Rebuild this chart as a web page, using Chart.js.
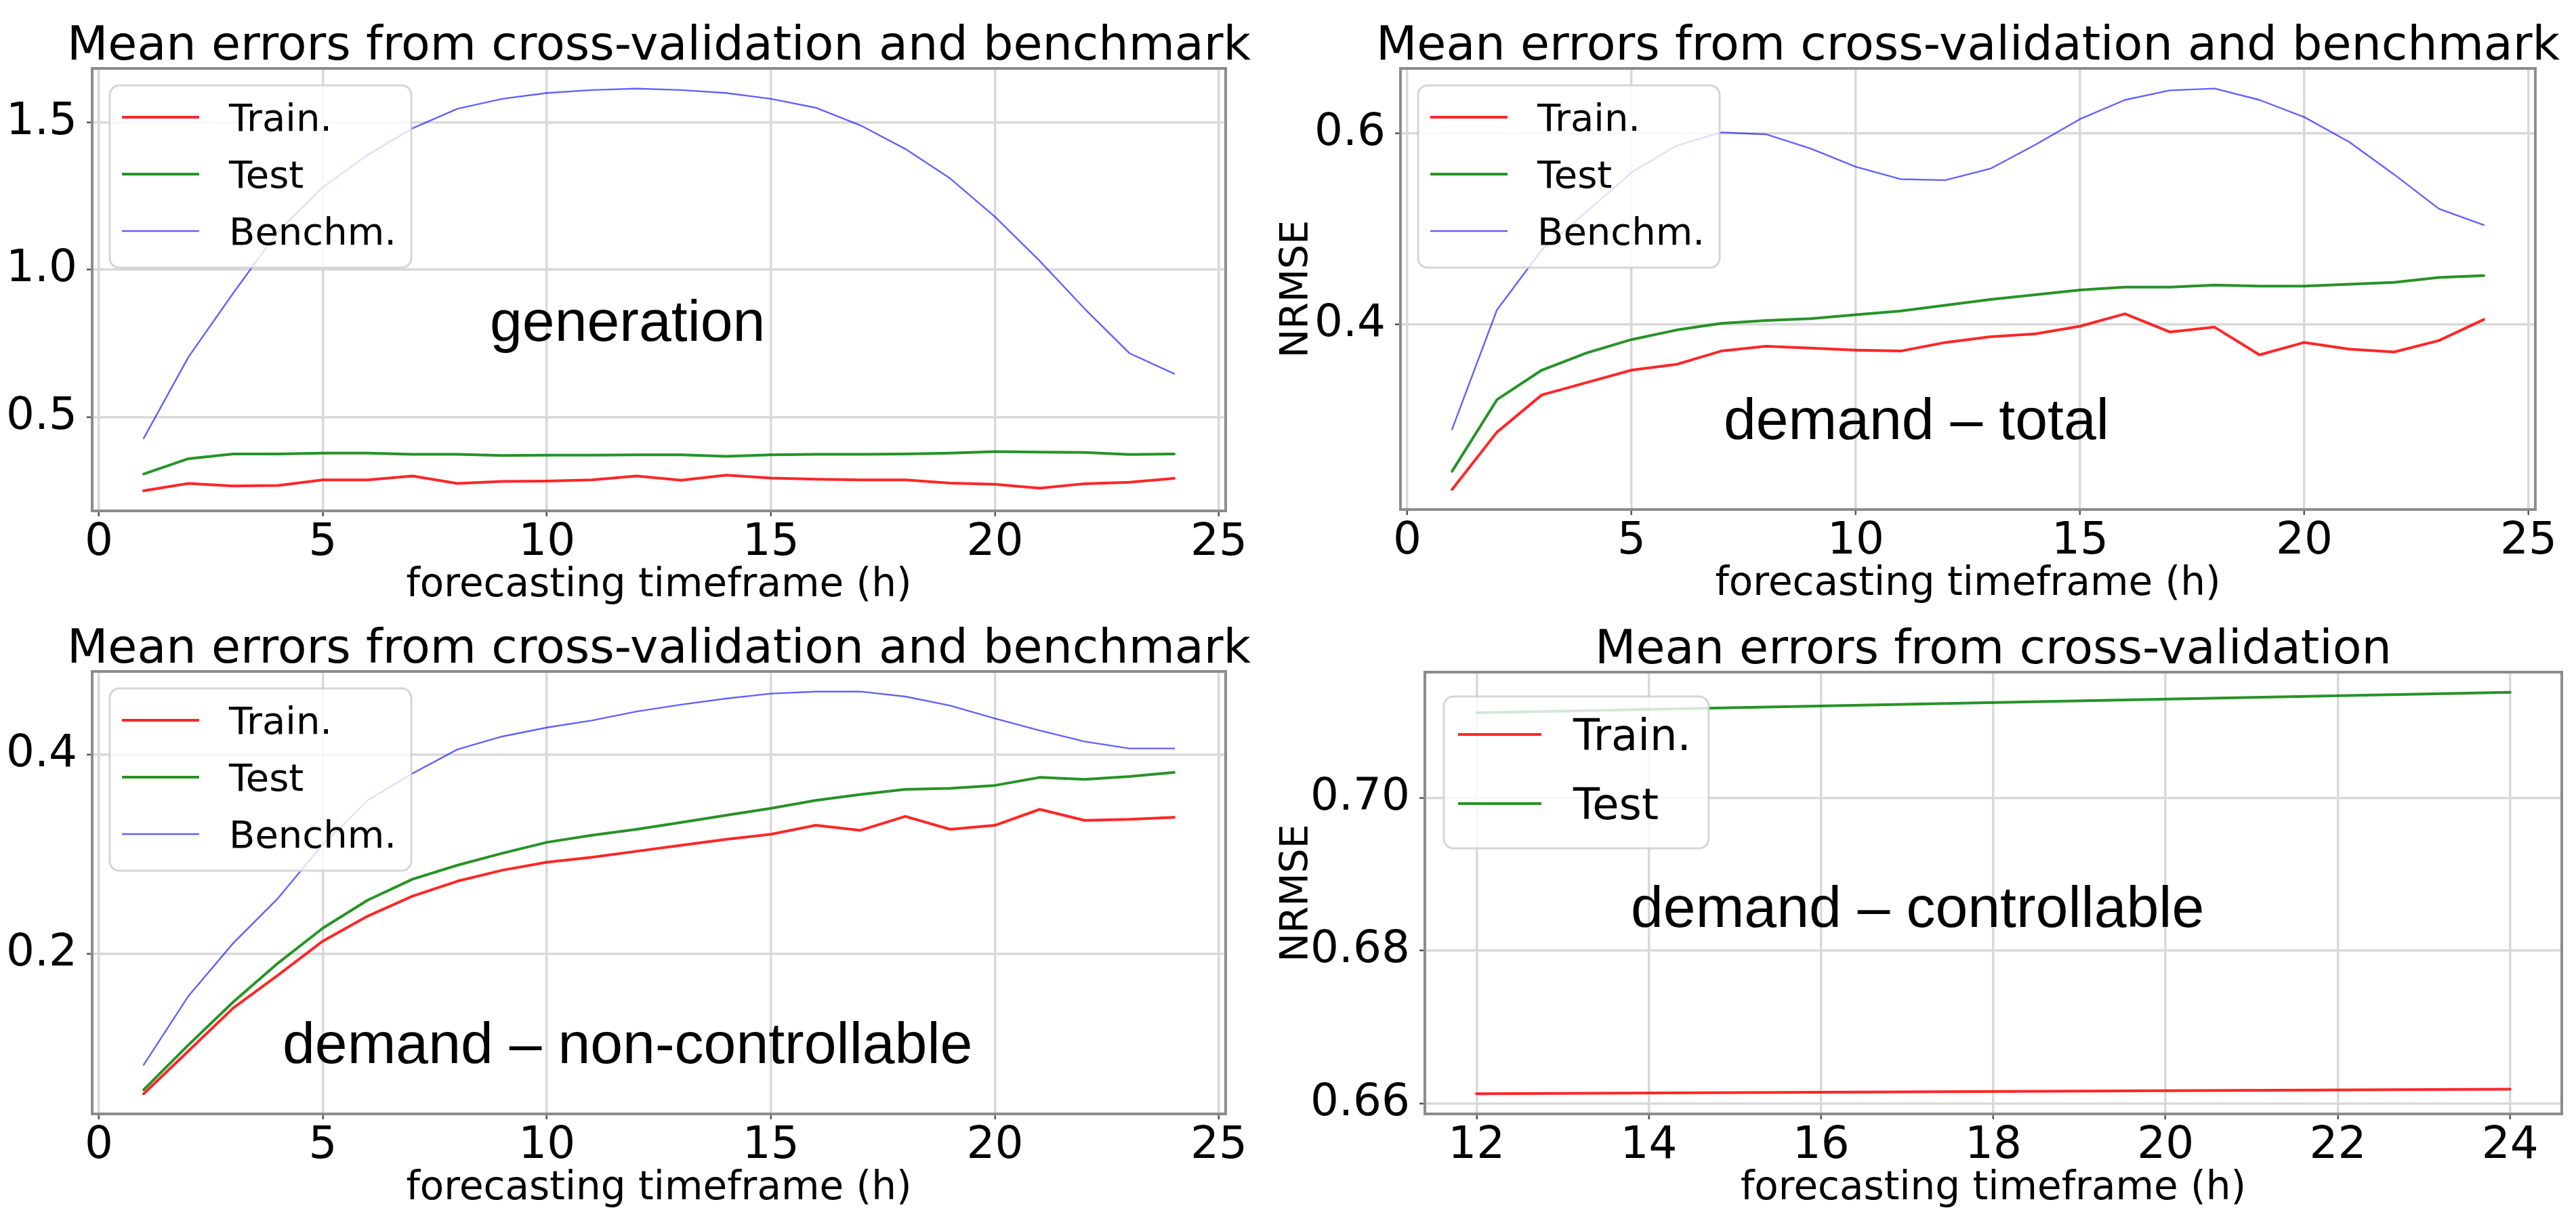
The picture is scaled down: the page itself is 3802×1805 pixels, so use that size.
<!DOCTYPE html>
<html>
<head>
<meta charset="utf-8">
<title>Mean errors from cross-validation and benchmark</title>
<script src="https://cdn.jsdelivr.net/npm/chart.js@4.4.1/dist/chart.umd.min.js"></script>
<style>
  html, body { margin: 0; padding: 0; background: #fff; }
  body { position: relative; width: 3802px; height: 1805px; overflow: hidden; }
  .panel { position: absolute; }
</style>
</head>
<body>
<div class="panel" id="p1"><canvas id="genChart"></canvas></div>
<div class="panel" id="p2"><canvas id="totalChart"></canvas></div>
<div class="panel" id="p3"><canvas id="nonCtrlChart"></canvas></div>
<div class="panel" id="p4"><canvas id="ctrlChart"></canvas></div>
<script>
/* ---- data ---- */
const hours = [1, 2, 3, 4, 5, 6, 7, 8, 9, 10, 11, 12, 13, 14, 15, 16, 17, 18, 19, 20, 21, 22, 23, 24];

const genTrain = [0.250, 0.275, 0.266, 0.268, 0.287, 0.287, 0.300, 0.275, 0.282, 0.283, 0.287, 0.300,
                  0.286, 0.303, 0.293, 0.289, 0.287, 0.287, 0.276, 0.272, 0.259, 0.274, 0.279, 0.292];
const genTest  = [0.307, 0.359, 0.375, 0.375, 0.378, 0.378, 0.374, 0.374, 0.370, 0.371, 0.371, 0.372,
                  0.372, 0.367, 0.372, 0.374, 0.374, 0.375, 0.378, 0.383, 0.381, 0.380, 0.373, 0.375];
const genBench = [0.428, 0.704, 0.921, 1.130, 1.280, 1.390, 1.480, 1.546, 1.580, 1.600, 1.610, 1.615,
                  1.610, 1.600, 1.580, 1.550, 1.490, 1.410, 1.310, 1.180, 1.030, 0.868, 0.717, 0.647];

const totTrain = [0.227, 0.287, 0.326, 0.339, 0.352, 0.358, 0.372, 0.377, 0.375, 0.373, 0.372, 0.381,
                  0.387, 0.390, 0.398, 0.411, 0.392, 0.397, 0.368, 0.381, 0.374, 0.371, 0.383, 0.405];
const totTest  = [0.246, 0.321, 0.352, 0.370, 0.384, 0.394, 0.401, 0.404, 0.406, 0.410, 0.414, 0.420,
                  0.426, 0.431, 0.436, 0.439, 0.439, 0.441, 0.440, 0.440, 0.442, 0.444, 0.449, 0.451];
const totBench = [0.290, 0.415, 0.478, 0.518, 0.559, 0.587, 0.601, 0.599, 0.584, 0.565, 0.552, 0.551,
                  0.563, 0.588, 0.615, 0.635, 0.645, 0.647, 0.635, 0.617, 0.591, 0.557, 0.521, 0.504];

const nonTrain = [0.060, 0.103, 0.146, 0.179, 0.213, 0.238, 0.258, 0.273, 0.284, 0.292, 0.297, 0.303,
                  0.309, 0.315, 0.320, 0.329, 0.324, 0.338, 0.325, 0.329, 0.345, 0.334, 0.335, 0.337];
const nonTest  = [0.064, 0.109, 0.152, 0.191, 0.226, 0.254, 0.275, 0.289, 0.301, 0.312, 0.319, 0.325,
                  0.332, 0.339, 0.346, 0.354, 0.360, 0.365, 0.366, 0.369, 0.377, 0.375, 0.378, 0.382];
const nonBench = [0.089, 0.158, 0.211, 0.256, 0.310, 0.354, 0.381, 0.405, 0.418, 0.427, 0.434, 0.443,
                  0.450, 0.456, 0.461, 0.463, 0.463, 0.458, 0.449, 0.436, 0.424, 0.413, 0.406, 0.406];

const ctrlHours = [12, 24];
const ctrlTrain = [0.6613, 0.6619];
const ctrlTest  = [0.7111, 0.7138];

/* tick labels */
const hourTicks     = [0, 5, 10, 15, 20, 25];
const ctrlHourTicks = [12, 14, 16, 18, 20, 22, 24];
const genYTicks     = [0.5, 1.0, 1.5];
const totYTicks     = [0.4, 0.6];
const nonYTicks     = [0.2, 0.4];
const ctrlYTicks    = [0.66, 0.68, 0.70];

const TITLE_FULL  = 'Mean errors from cross-validation and benchmark';
const TITLE_SHORT = 'Mean errors from cross-validation';
const X_LABEL     = 'forecasting timeframe (h)';

/* matplotlib-ish look */
const TXT_FONT  = "'DejaVu Sans', sans-serif";
const NOTE_FONT = "'Liberation Sans', Arial, sans-serif";
const RED   = 'rgba(255, 0, 0, 0.85)';
const GREEN = 'rgba(0, 128, 0, 0.85)';
const BLUE  = 'rgba(0, 0, 255, 0.62)';

/* matplotlib autoscale: data range plus 5% each side */
function padRange(arrays) {
  const all = [].concat(...arrays);
  const lo = Math.min(...all), hi = Math.max(...all);
  const m = (hi - lo) * 0.05;
  return [lo - m, hi + m];
}

function series(xs, ys) {
  return xs.map((x, i) => ({ x: x, y: ys[i] }));
}

/*
  Axes title centred over the plot frame. The built-in title squeezes
  text wider than the chart area (maxWidth), and these titles overhang
  the frame in the reference, so it is drawn here instead.
*/
const axesTitlePlugin = {
  id: 'axesTitle',
  afterDraw(chart, args, o) {
    const { ctx, chartArea: a } = chart;
    ctx.save();
    ctx.font = `${o.size}px ${TXT_FONT}`;
    ctx.fillStyle = '#000';
    ctx.textAlign = 'center';
    ctx.textBaseline = 'alphabetic';
    ctx.fillText(o.text, (a.left + a.right) / 2, a.top - o.gap);
    ctx.restore();
  }
};

/* frame on all four sides, like matplotlib spines */
const framePlugin = {
  id: 'frame',
  afterDatasetsDraw(chart) {
    const { ctx, chartArea: a } = chart;
    ctx.save();
    ctx.strokeStyle = '#8c8c8c';
    ctx.lineWidth = 4;
    ctx.strokeRect(a.left, a.top, a.right - a.left, a.bottom - a.top);
    ctx.restore();
  }
};

/* legend drawn inside the plot area, upper left, semi-transparent box */
const boxLegendPlugin = {
  id: 'boxLegend',
  afterDatasetsDraw(chart, args, o) {
    const { ctx, chartArea: a } = chart;
    const sets = chart.data.datasets;
    ctx.save();
    ctx.font = `${o.size}px ${TXT_FONT}`;
    const textW = Math.max(...sets.map(d => ctx.measureText(d.label).width));
    const x0 = a.left + o.offX, y0 = a.top + o.offY;
    const w = o.lineStart + o.lineLen + o.textGap + textW + o.rightPad;
    const h = o.firstRow + o.rowGap * (sets.length - 1) + o.lastPad;

    ctx.beginPath();
    ctx.roundRect(x0, y0, w, h, 14);
    ctx.fillStyle = 'rgba(255, 255, 255, 0.8)';
    ctx.fill();
    ctx.strokeStyle = 'rgba(204, 204, 204, 0.8)';
    ctx.lineWidth = 3;
    ctx.stroke();

    sets.forEach((d, i) => {
      const y = y0 + o.firstRow + i * o.rowGap;
      ctx.beginPath();
      ctx.moveTo(x0 + o.lineStart, y);
      ctx.lineTo(x0 + o.lineStart + o.lineLen, y);
      ctx.strokeStyle = d.borderColor;
      ctx.lineWidth = d.borderWidth;
      ctx.stroke();
      ctx.fillStyle = '#000';
      ctx.textAlign = 'left';
      ctx.textBaseline = 'alphabetic';
      ctx.fillText(d.label, x0 + o.lineStart + o.lineLen + o.textGap, y + o.size * 0.3645);
    });
    ctx.restore();
  }
};

/* the big panel caption, placed in data coordinates */
const notePlugin = {
  id: 'note',
  afterDatasetsDraw(chart, args, o) {
    const { ctx, scales } = chart;
    ctx.save();
    ctx.font = `${o.size}px ${NOTE_FONT}`;
    ctx.fillStyle = '#000';
    ctx.textAlign = 'center';
    ctx.textBaseline = 'alphabetic';
    ctx.fillText(o.text, scales.x.getPixelForValue(o.x), scales.y.getPixelForValue(o.y));
    ctx.restore();
  }
};

/*
  One panel. box = where the canvas sits on the page, area = where the
  plot frame must land; axis widths and top padding are pinned so the
  frame matches the reference.
*/
function makePanel(cfg) {
  const holder = document.getElementById(cfg.holder);
  Object.assign(holder.style, {
    left: cfg.box.left + 'px', top: cfg.box.top + 'px',
    width: cfg.box.w + 'px', height: cfg.box.h + 'px'
  });

  const yAxisW  = cfg.area.l - cfg.box.left;
  const xAxisH  = 146;
  const padT    = cfg.area.t - cfg.box.top;
  const padR    = cfg.box.left + cfg.box.w - cfg.area.r;
  const padB    = cfg.box.top + cfg.box.h - cfg.area.b - xAxisH;
  const [xMin, xMax] = padRange([cfg.xs]);
  const [yMin, yMax] = padRange(cfg.sets.map(s => s.data));

  const gridStyle = { color: '#d9d9d9', lineWidth: 3.5, drawTicks: true, tickLength: 8, tickColor: '#555', tickWidth: 2.5 };

  return new Chart(document.getElementById(cfg.canvas), {
    type: 'line',
    data: {
      datasets: cfg.sets.map(s => ({
        label: s.label,
        data: series(cfg.xs, s.data),
        borderColor: s.color,
        borderWidth: s.width,
        pointRadius: 0,
        tension: 0,
        fill: false,
        borderJoinStyle: 'round',
        borderCapStyle: 'round'
      }))
    },
    options: {
      responsive: true,
      maintainAspectRatio: false,
      devicePixelRatio: 1,
      animation: false,
      events: [],
      layout: { padding: { left: 0, top: padT, right: padR, bottom: padB } },
      plugins: {
        legend: { display: false },
        tooltip: { enabled: false },
        title: { display: false },
        axesTitle: { text: cfg.title, size: 70, gap: 13 },
        boxLegend: cfg.legend,
        note: cfg.note
      },
      scales: {
        x: {
          type: 'linear',
          min: xMin,
          max: xMax,
          afterBuildTicks: (scale) => { scale.ticks = cfg.xTicks.map(v => ({ value: v })); },
          afterFit: (scale) => { scale.height = xAxisH; },
          border: { display: false },
          grid: gridStyle,
          ticks: {
            color: '#000',
            padding: 0,
            maxRotation: 0,
            autoSkip: false,
            font: { family: TXT_FONT, size: 66 },
            callback: (v) => String(v)
          },
          title: {
            display: true,
            text: X_LABEL,
            color: '#000',
            font: { family: TXT_FONT, size: 58 },
            padding: { top: 0, bottom: 0 }
          }
        },
        y: {
          type: 'linear',
          min: yMin,
          max: yMax,
          afterBuildTicks: (scale) => { scale.ticks = cfg.yTicks.map(v => ({ value: v })); },
          afterFit: (scale) => { scale.width = yAxisW; },
          border: { display: false },
          grid: gridStyle,
          ticks: {
            color: '#000',
            padding: 14,
            autoSkip: false,
            font: { family: TXT_FONT, size: 66 },
            callback: (v) => v.toFixed(cfg.yDecimals)
          },
          title: {
            display: !!cfg.yLabel,
            text: cfg.yLabel || '',
            color: '#000',
            font: { family: TXT_FONT, size: 57 },
            padding: { top: 21, bottom: 0 }
          }
        }
      }
    },
    plugins: [framePlugin, boxLegendPlugin, notePlugin, axesTitlePlugin]
  });
}

const legendSmall = { size: 56, offX: 26, offY: 25, firstRow: 47, rowGap: 84, lastPad: 54,
                      lineStart: 18, lineLen: 114, textGap: 44, rightPad: 22 };
const legendLarge = { size: 64, offX: 28, offY: 36, firstRow: 56, rowGap: 102, lastPad: 66,
                      lineStart: 21, lineLen: 123, textGap: 47, rightPad: 26 };

makePanel({
  holder: 'p1', canvas: 'genChart',
  box: { left: 0, top: 0, w: 1900, h: 900 },
  area: { l: 136, t: 101, r: 1809, b: 754 },
  title: TITLE_FULL,
  xs: hours, xTicks: hourTicks, yTicks: genYTicks, yDecimals: 1,
  sets: [
    { label: 'Train.',  data: genTrain, color: RED,   width: 4 },
    { label: 'Test',    data: genTest,  color: GREEN, width: 4 },
    { label: 'Benchm.', data: genBench, color: BLUE,  width: 2.4 }
  ],
  legend: legendSmall,
  note: { text: 'generation', x: 11.8, y: 0.76, size: 86 }
});

makePanel({
  holder: 'p2', canvas: 'totalChart',
  box: { left: 1860, top: 0, w: 1942, h: 900 },
  area: { l: 2067, t: 101, r: 3742, b: 752 },
  title: TITLE_FULL,
  yLabel: 'NRMSE',
  xs: hours, xTicks: hourTicks, yTicks: totYTicks, yDecimals: 1,
  sets: [
    { label: 'Train.',  data: totTrain, color: RED,   width: 4 },
    { label: 'Test',    data: totTest,  color: GREEN, width: 4 },
    { label: 'Benchm.', data: totBench, color: BLUE,  width: 2.4 }
  ],
  legend: legendSmall,
  note: { text: 'demand \u2013 total', x: 11.35, y: 0.280, size: 86 }
});

makePanel({
  holder: 'p3', canvas: 'nonCtrlChart',
  box: { left: 0, top: 900, w: 1900, h: 905 },
  area: { l: 136, t: 991, r: 1809, b: 1644 },
  title: TITLE_FULL,
  xs: hours, xTicks: hourTicks, yTicks: nonYTicks, yDecimals: 1,
  sets: [
    { label: 'Train.',  data: nonTrain, color: RED,   width: 4 },
    { label: 'Test',    data: nonTest,  color: GREEN, width: 4 },
    { label: 'Benchm.', data: nonBench, color: BLUE,  width: 2.4 }
  ],
  legend: legendSmall,
  note: { text: 'demand \u2013 non-controllable', x: 11.8, y: 0.091, size: 86 }
});

makePanel({
  holder: 'p4', canvas: 'ctrlChart',
  box: { left: 1860, top: 900, w: 1942, h: 905 },
  area: { l: 2103, t: 992, r: 3781, b: 1644 },
  title: TITLE_SHORT,
  yLabel: 'NRMSE',
  xs: ctrlHours, xTicks: ctrlHourTicks, yTicks: ctrlYTicks, yDecimals: 2,
  sets: [
    { label: 'Train.', data: ctrlTrain, color: RED,   width: 4 },
    { label: 'Test',   data: ctrlTest,  color: GREEN, width: 4 }
  ],
  legend: legendLarge,
  note: { text: 'demand \u2013 controllable', x: 17.12, y: 0.6831, size: 86 }
});
</script>
</body>
</html>
